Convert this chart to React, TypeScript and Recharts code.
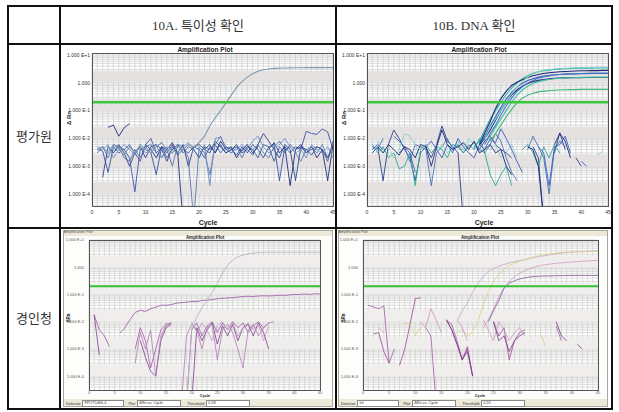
import React from 'react';
import { LineChart, Line, XAxis, YAxis, CartesianGrid, ReferenceLine, ReferenceArea } from 'recharts';

const _ = null;

const cycles = [1,2,3,4,5,6,7,8,9,10,11,12,13,14,15,16,17,18,19,20,21,22,23,24,25,26,27,28,29,30,31,32,33,34,35,36,37,38,39,40,41,42,43,44,45];
const xTicks = [0,5,10,15,20,25,30,35,40,45];
const gridCycles = [0,1,2,3,4,5,6,7,8,9,10,11,12,13,14,15,16,17,18,19,20,21,22,23,24,25,26,27,28,29,30,31,32,33,34,35,36,37,38,39,40,41,42,43,44,45];
const yTicks = [1e-4, 1e-3, 1e-2, 1e-1, 1, 10];
const thresholdTop = 0.2;
const thresholdBottom = 0.2;

// ---------- 10A / 평가원 ----------
const tlAmp = [4e-3,5e-3,3e-3,6e-3,4e-3,2.5e-3,5e-3,3e-3,6e-3,4e-3,3e-3,5e-3,7e-3,4e-3,3e-3,5e-3,4e-3,6e-3,5e-3,7e-3,1.2e-2,2.8e-2,5.5e-2,0.1,0.19,0.36,0.68,1.1,1.6,2.1,2.6,2.95,3.15,3.3,3.38,3.42,3.45,3.47,3.48,3.5,3.5,3.5,3.5,3.5,3.5];
const tlN1 = [4e-3,3.5e-3,6e-4,5e-3,3e-3,4e-3,2e-3,1.2e-4,4e-3,5e-3,3e-3,5e-4,5e-3,3e-3,6e-3,2.5e-3,4e-3,3e-3,5e-3,4e-3,2e-3,5e-3,3e-3,6e-3,3e-3,4e-3,2.5e-3,5e-3,3e-3,6e-3,4e-3,2e-3,5e-3,6e-3,3e-4,5e-3,3e-3,5e-3,4e-3,1.8e-2,1.5e-2,1.4e-2,2.2e-2,1.7e-2,4e-3];
const tlN2 = [_,_,2.5e-2,3e-2,1.2e-2,2.4e-2,3.4e-2,_,_,6e-3,4e-3,2e-3,5e-3,4e-3,7e-3,3e-3,1e-5,_,_,_,4e-3,6e-3,3e-3,8e-3,4e-3,5e-3,2e-3,4e-3,6e-3,3e-3,5e-3,_,4e-3,7e-3,3e-3,5e-3,2e-4,4e-3,6e-3,3e-3,5e-3,2e-3,4e-3,3e-4,6e-3];
const tlN3 = [3e-3,5e-3,2e-3,6e-3,5e-3,2e-3,1.5e-3,4e-3,2e-3,5e-3,6e-3,3e-3,2e-3,4e-3,1e-3,6e-3,5e-3,2e-3,1e-5,5e-3,3e-3,5e-4,6e-3,1.2e-2,4e-3,3e-3,5e-3,2e-3,5e-3,4e-3,6e-3,3e-3,2e-3,5e-3,8e-3,4e-3,5e-3,3e-3,1.5e-3,4e-3,5e-3,3e-3,6e-3,2e-3,4e-3];
const tlN4 = [_,4e-4,5e-3,3e-3,6e-3,3e-3,1e-3,3e-3,5e-3,2e-3,5e-3,6e-3,4e-3,1.5e-3,5e-3,3e-3,6e-3,1e-3,5e-3,6e-3,4e-3,3e-3,8e-3,5e-3,3e-3,4e-3,6e-3,3e-3,4e-3,2.5e-3,6e-3,1.5e-2,8e-3,4e-3,2e-3,6e-3,4e-3,3e-4,5e-3,4e-3,2.5e-3,5e-3,4e-3,2e-3,6e-3];
const tlN5 = [5e-3,4e-3,6e-3,2e-3,4e-3,6e-3,4e-3,2.5e-3,5e-3,3e-3,4e-3,6e-3,2e-3,5e-3,4e-3,3e-3,5e-3,7e-3,4e-3,2e-3,6e-3,2e-4,1e-2,1.1e-2,5e-3,3e-3,4e-3,6e-3,4e-3,8e-3,1.2e-2,5e-3,3e-3,4e-3,6e-3,1e-2,5e-3,3e-3,4e-3,2e-3,6e-3,4e-3,3e-3,5e-3,2e-3];
const tlN6 = [4e-3,_,_,3e-3,5e-3,4e-3,6e-3,3e-3,1.5e-3,6e-3,1e-2,3e-3,5e-3,2e-3,4e-3,6e-3,3e-3,5e-3,4e-3,2e-3,5e-3,4e-3,6e-3,3e-3,5e-3,4e-3,5e-3,3.5e-3,5e-3,4e-3,2e-3,6e-3,5e-3,1.5e-3,5e-3,3e-3,6e-3,4e-3,5e-3,3e-3,4e-3,5e-3,4e-3,1.5e-3,8e-3];

// ---------- 10B / 평가원 ----------
const trA = [_,_,_,_,_,_,_,_,_,_,_,_,_,_,_,_,_,_,_,5e-3,8e-3,0.02,0.05,0.1,0.2,0.38,0.65,1.0,1.4,1.8,2.2,2.5,2.7,2.85,3.0,3.1,3.2,3.25,3.3,3.32,3.35,3.38,3.4,3.4,3.4];
const trB = [_,_,_,_,_,_,_,_,_,_,_,_,_,_,_,_,_,_,_,_,6e-3,0.016,0.04,0.12,0.27,0.5,0.8,1.05,1.3,1.55,1.8,2.0,2.15,2.3,2.4,2.5,2.55,2.6,2.65,2.7,2.7,2.75,2.75,2.8,2.8];
const trC = [_,_,_,_,_,_,_,_,_,_,_,_,_,_,_,_,_,_,_,_,7e-3,0.012,0.028,0.06,0.13,0.26,0.45,0.7,0.95,1.2,1.4,1.6,1.75,1.85,1.95,2.0,2.05,2.08,2.1,2.12,2.14,2.15,2.15,2.15,2.15];
const trD = [_,_,_,_,_,_,_,_,_,_,_,_,_,_,_,_,_,_,_,_,6e-3,1e-2,0.02,0.045,0.1,0.2,0.36,0.55,0.75,0.95,1.1,1.22,1.32,1.4,1.45,1.48,1.5,1.52,1.53,1.54,1.55,1.55,1.55,1.55,1.55];
const trE = [_,_,_,_,_,_,_,_,_,_,_,_,_,_,_,_,_,_,_,_,_,8e-3,0.012,0.025,0.05,0.1,0.2,0.35,0.55,0.75,0.95,1.1,1.22,1.32,1.4,1.45,1.5,1.52,1.55,1.57,1.58,1.6,1.6,1.6,1.6];
const trF = [_,_,_,_,_,_,_,_,_,_,_,_,_,_,_,_,_,_,_,_,_,6e-3,0.015,0.03,0.07,0.15,0.28,0.48,0.72,0.98,1.22,1.45,1.62,1.78,1.9,1.98,2.05,2.1,2.14,2.17,2.2,2.22,2.24,2.25,2.25];
const trG = [_,_,_,_,_,_,_,_,_,_,_,_,_,_,_,_,_,_,_,_,_,_,8e-3,0.015,0.03,0.06,0.11,0.19,0.28,0.36,0.42,0.47,0.5,0.52,0.54,0.55,0.56,0.57,0.57,0.58,0.58,0.58,0.58,0.58,0.58];
const trH = [_,_,_,_,_,_,_,_,_,_,_,_,_,_,_,_,_,_,_,_,_,1e-2,0.025,0.05,0.1,0.2,0.4,0.7,1.1,1.6,2.1,2.5,2.8,3.0,3.15,3.25,3.35,3.4,3.45,3.5,3.52,3.55,3.58,3.6,3.6];
const trN1 = [3e-3,5e-3,3e-4,6e-3,2e-2,1e-2,4e-3,2e-3,3e-4,3e-3,5e-3,2e-3,6e-3,2.8e-2,8e-3,5e-3,3e-3,1e-5,_,5e-3,4e-3,8e-3,1.2e-2,6e-3,4e-3,3e-3,2e-3,_,_,_,5e-3,2e-3,1e-5,_,3e-3,1.6e-2,4e-3,_,2e-3,1e-3];
const trN2 = [5e-3,4e-3,1e-2,_,_,3e-3,5e-3,1.5e-3,6e-3,5e-3,4e-3,2e-4,3e-3,5e-3,1e-2,4e-3,6e-3,3e-3,5e-3,7e-3,4e-3,3e-3,6e-3,1.5e-2,8e-3,2e-3,6e-4,3e-4,_,4e-3,1.2e-2,5e-3,2e-3,1e-4,4e-3,8e-3,5e-3];
const trN3 = [6e-3,3e-3,5e-3,2e-3,3e-3,8e-4,1e-3,3e-3,2e-4,4e-3,6e-3,3e-3,5e-3,4e-3,2e-3,6e-3,5e-3,3e-3,6e-3,4e-3,1e-2,3e-3,5e-4,2e-4,5e-4,1e-3,2e-4,_,4e-3,6e-3,3e-3,1e-3,5e-3,2e-3,6e-3,3e-3];
const trN4 = [_,8e-3,3e-3,5e-3,2e-3,4e-3,1.5e-2,1.2e-2,6e-3,2e-3,_,_,4e-3,6e-3,3e-3,5e-3,8e-3,4e-3,1e-2,6e-3,3e-3,5e-3,4e-3,6e-3,2e-3,3e-3,6e-3,2e-3,_,_,_,_,_,_,_,_,_,_,_,3e-3,_,_,2.5e-3,3.5e-3];
const trN5 = [4e-3,6e-3,4e-3,_,1.2e-2,8e-3,5e-3,3e-3,6e-4,_,5e-3,8e-3,4e-3,2e-3,6e-3,3e-3,1e-2,5e-3,3e-3,2e-3,6e-3,4e-3,1e-2,7e-3,2.2e-2,1e-2,4e-3,1.5e-3,6e-4,_,_,5e-3,3e-3,2e-4,5e-3,6e-3,1.2e-2,3e-3,_,1.5e-3,1e-3];
const trN6 = [_,5e-3,3e-3,6e-3,4e-3,2.5e-3,5e-3,4e-3,2e-3,6e-3,5e-3,1e-3,5e-3,2e-2,6e-3,4e-3,5e-3,7e-3,4e-3,8e-3,3e-3,4e-3,6e-3,3e-3,4e-3,1e-3,5e-4,_,_,5e-3,4e-3,1e-3,1e-5,_,6e-3,1.5e-2,8e-3,2e-3];

// ---------- 10A / 경인청 ----------
const blAmp = [_,_,_,_,_,_,_,_,_,_,_,_,_,_,_,_,_,_,1e-5,5e-3,1.5e-2,3.2e-2,6e-2,0.12,0.25,0.6,1.2,1.8,2.4,2.8,3.1,3.3,3.45,3.5,3.55,3.55,3.55,3.55,3.55,3.55,3.55,3.55,3.55,3.55,3.55];
const blSlow = [_,_,_,_,_,3.8e-3,6e-3,1.2e-2,2.2e-2,2.6e-2,2.4e-2,3e-2,3.4e-2,4e-2,4e-2,4.2e-2,4.8e-2,5e-2,5.2e-2,5.5e-2,5.5e-2,6e-2,6.2e-2,6.5e-2,7e-2,7.2e-2,7.5e-2,7.6e-2,8e-2,8.4e-2,8.6e-2,8.4e-2,8.8e-2,9e-2,8.8e-2,9e-2,9.4e-2,9.2e-2,9.6e-2,0.1,0.1,0.104,0.1,0.106,0.104];
const blN1 = [1.8e-2,5e-3,3e-3,1.2e-3,_,_,_,_,1e-3,6e-3,2e-3,2e-4,1e-3,5e-3,8e-3,9e-3,_,_,1e-5,5e-3,9e-3,3e-3,7e-3,1e-2,4e-3,9e-3,5e-3,1e-2,6e-3,9e-3,4e-3,7e-3,1e-2,6e-3,9e-3];
const blN2 = [1.8e-2,6e-4,_,_,_,_,_,_,_,2e-3,5e-4,1.5e-4,1e-4,2e-3,6e-3,8e-3,_,_,_,1e-5,6e-3,2e-3,5e-3,9e-3,1.5e-3,7e-3,3e-3,8e-3,2e-3,6e-3,8e-3,3e-3,9e-3,4e-3,1e-3];
const blN3 = [_,_,_,_,_,_,_,_,3e-4,4e-3,1e-3,5e-3,1e-4,3e-3,7e-3,9e-3,_,1e-5,3e-3,8e-3,5e-3,1e-3,6e-3,8e-3,4e-4,5e-3,8e-3,4e-3,1e-3,2e-4,5e-3,8e-3,3e-3,6e-3,9e-3,1e-2];
const blN4 = [_,_,_,_,_,_,_,_,_,_,_,_,_,2e-3,9e-3,_,_,_,_,1e-2,4e-3,9e-3,5e-3,2e-3,7e-3,1e-2,5e-3,9e-3,3e-3,6e-3,9e-3,5e-3,8e-3,2e-3,7e-3];

// ---------- 10B / 경인청 ----------
const brA = [_,_,_,_,_,_,_,_,_,_,_,_,_,_,_,_,_,1e-2,2.5e-2,5e-2,0.12,0.25,0.45,0.7,0.9,1.1,1.25,1.45,1.6,1.75,1.9,2.1,2.3,2.5,2.7,2.9,3.1,3.3,3.45,3.6,3.7,3.8,3.9,4.0,4.05];
const brB = [_,_,_,_,_,_,_,_,_,_,_,_,_,_,_,_,_,_,_,_,5e-3,1e-2,4e-2,0.13,0.3,0.55,0.85,1.15,1.4,1.65,1.9,2.2,2.45,2.7,2.9,3.1,3.3,3.45,3.55,3.6,3.65,3.7,3.72,3.75,3.75];
const brC = [_,_,_,_,_,_,_,_,_,_,_,_,_,_,_,_,_,_,_,_,_,_,6e-3,1.2e-2,3e-2,0.08,0.17,0.3,0.45,0.6,0.75,0.9,1.05,1.15,1.25,1.32,1.4,1.45,1.5,1.55,1.6,1.65,1.7,1.75,1.8];
const brD = [_,_,_,_,_,_,_,_,_,_,_,_,_,_,_,_,_,_,_,_,_,_,_,1e-2,2.5e-2,6e-2,0.17,0.26,0.32,0.37,0.41,0.44,0.46,0.47,0.48,0.48,0.49,0.49,0.5,0.5,0.5,0.5,0.5,0.5,0.5];
const brN1 = [4e-2,3.5e-2,3e-2,3.8e-2,3e-4,1e-3,_,_,_,_,_,6e-3,3e-3,1e-5,_,1.1e-2,8e-3,2e-3,4e-4,1e-3,1e-4,_,_,_,_,_,_,_,_,_,_,_,_,_,_,_,7e-3,2e-3];
const brN2 = [_,3.5e-3,4e-3,8e-4,3e-4,_,2.5e-4,1e-3,8e-3,7e-2,7.5e-2,_,_,_,_,1.1e-2,5e-3,1.5e-3,4e-4,1.2e-3,1e-4,_,_,_,1e-2,3e-3,6e-3,4e-4,2e-3,4e-3,5e-3];
const brN3 = [_,_,_,_,_,_,_,9e-3,8e-3,3e-3,6e-3,_,_,_,_,_,_,4e-3,5e-3,3e-3,4e-3,_,_,_,_,_,_,_,_,_,_,_,_,3.5e-3,1.2e-3];
const brN4 = [_,_,6e-3,4e-3,_,_,_,_,_,_,1e-2,6e-3,3e-2,1.2e-2,4e-3,_,_,1.2e-2,6e-3,2e-3,_,_,1.2e-2,5e-3,2e-3,1e-2,5e-3,2e-3,4e-3,6e-3,3e-3];
const brN5 = [_,_,_,_,_,_,_,_,_,_,_,_,_,_,_,1.2e-2,5e-3,1.5e-3,4e-4,8e-4,1e-4,_,_,_,1e-2,2e-3,3e-3,8e-4,2e-3,3e-3,4e-3,_,_,_,_,_,1e-2,3e-3,2e-3,_,1.5e-3,1e-3];

type Series = { key: string; data: (number | null)[]; color: string; w: number };

const seriesTL: Series[] = [
  { key: 'n1', data: tlN1, color: '#3552a6', w: 0.9 },
  { key: 'n2', data: tlN2, color: '#1f2f7a', w: 0.9 },
  { key: 'n3', data: tlN3, color: '#5877b0', w: 0.9 },
  { key: 'n4', data: tlN4, color: '#2b4690', w: 0.9 },
  { key: 'n5', data: tlN5, color: '#6b8cc4', w: 0.9 },
  { key: 'n6', data: tlN6, color: '#415f9a', w: 0.9 },
  { key: 'amp', data: tlAmp, color: '#7f9aae', w: 1.1 },
];
const seriesTR: Series[] = [
  { key: 'n1', data: trN1, color: '#2a3f92', w: 0.9 },
  { key: 'n2', data: trN2, color: '#4a70b8', w: 0.9 },
  { key: 'n3', data: trN3, color: '#2aa894', w: 0.9 },
  { key: 'n4', data: trN4, color: '#8ccfc6', w: 0.9 },
  { key: 'n5', data: trN5, color: '#3b5cc0', w: 0.9 },
  { key: 'n6', data: trN6, color: '#1c2872', w: 0.9 },
  { key: 'a', data: trA, color: '#2fb3a2', w: 1.1 },
  { key: 'b', data: trB, color: '#1a2878', w: 1.1 },
  { key: 'c', data: trC, color: '#2f5fc0', w: 1.1 },
  { key: 'd', data: trD, color: '#22307a', w: 1.1 },
  { key: 'e', data: trE, color: '#3cc0a0', w: 1.1 },
  { key: 'f', data: trF, color: '#4a78c8', w: 1.1 },
  { key: 'g', data: trG, color: '#40b878', w: 1.1 },
  { key: 'h', data: trH, color: '#78d0c8', w: 1.1 },
];
const seriesBL: Series[] = [
  { key: 'n1', data: blN1, color: '#9a58a6', w: 0.8 },
  { key: 'n2', data: blN2, color: '#7a3a8a', w: 0.8 },
  { key: 'n3', data: blN3, color: '#b27ab8', w: 0.8 },
  { key: 'n4', data: blN4, color: '#c496c8', w: 0.8 },
  { key: 'slow', data: blSlow, color: '#a464ae', w: 0.9 },
  { key: 'amp', data: blAmp, color: '#bcb4c2', w: 0.9 },
];
const seriesBR: Series[] = [
  { key: 'n1', data: brN1, color: '#a058a8', w: 0.8 },
  { key: 'n2', data: brN2, color: '#9a4898', w: 0.8 },
  { key: 'n3', data: brN3, color: '#d8d080', w: 0.8 },
  { key: 'n4', data: brN4, color: '#cc94c4', w: 0.8 },
  { key: 'n5', data: brN5, color: '#7a3a88', w: 0.8 },
  { key: 'a', data: brA, color: '#c8acd8', w: 0.9 },
  { key: 'b', data: brB, color: '#d8d490', w: 0.9 },
  { key: 'c', data: brC, color: '#d4a0cc', w: 0.9 },
  { key: 'd', data: brD, color: '#8c6aa8', w: 0.9 },
];

function buildRows(series: Series[]) {
  return cycles.map((c, i) => {
    const r: Record<string, number | null> = { cycle: c };
    series.forEach((s) => {
      const v = s.data[i];
      r[s.key] = v === undefined ? null : v;
    });
    return r;
  });
}

const minorMult = [1, 2, 3, 4, 5, 6, 7, 8, 9];
const decades = [-5, -4, -3, -2, -1, 0, 1];

function fmtExp(v: number) {
  const k = Math.round(Math.log10(v));
  if (k === 0) return '1.000';
  return `1.000 E${k > 0 ? '+' : ''}${k}`;
}

const sans = 'Liberation Sans, Arial, sans-serif';
const serif = '"Liberation Serif", "DejaVu Serif", "Noto Sans CJK KR", serif';

type PlotProps = {
  left: number; top: number; width: number; height: number;
  mTop: number; mRight: number; yW: number; xH: number;
  series: Series[]; domain: [number, number]; threshold: number;
  tickFont: number; tickColor: string; yGap: number; xGap: number;
  grid: string; band: string; green: string; greenW: number;
};

function AmpPlot(p: PlotProps) {
  const rows = buildRows(p.series);
  const levels = decades.flatMap((d) => minorMult.map((m) => m * Math.pow(10, d))).filter((v) => v >= p.domain[0] && v <= p.domain[1]);
  const bandLows = [1e-5, 1e-4, 1e-3, 1e-2, 1e-1, 1];
  const yTick = (t: any) => (
    <text x={t.x - p.yGap} y={t.y} dy="0.35em" textAnchor="end" fontSize={p.tickFont} fill={p.tickColor} fontFamily={sans}>
      {fmtExp(t.payload.value)}
    </text>
  );
  const xTick = (t: any) => (
    <text x={t.x} y={t.y + p.xGap} dy="0.75em" textAnchor="middle" fontSize={p.tickFont} fill={p.tickColor} fontFamily={sans}>
      {t.payload.value}
    </text>
  );
  return (
    <div style={{ position: 'absolute', left: p.left, top: p.top }}>
      <LineChart width={p.width} height={p.height} data={rows} margin={{ top: p.mTop, right: p.mRight, left: 0, bottom: 0 }}>
        {bandLows.map((b) => (
          <ReferenceArea key={b} y1={Math.max(b, p.domain[0])} y2={Math.min(b * 2.7, p.domain[1])} fill={p.band} fillOpacity={1} stroke="none" ifOverflow="hidden" />
        ))}
        <CartesianGrid stroke={p.grid} strokeWidth={0.6} verticalValues={gridCycles} horizontalValues={levels} />
        <XAxis dataKey="cycle" type="number" domain={[0, 45]} ticks={xTicks} interval={0} allowDataOverflow height={p.xH}
          axisLine={false} tickLine={false} tickSize={0} tickMargin={0} tick={xTick} />
        <YAxis type="number" scale="log" domain={p.domain} ticks={yTicks} interval={0} allowDataOverflow width={p.yW}
          axisLine={false} tickLine={false} tickSize={0} tickMargin={0} tick={yTick} />
        {p.series.map((s) => (
          <Line key={s.key} dataKey={s.key} type="linear" stroke={s.color} strokeWidth={s.w} dot={false} activeDot={false}
            connectNulls={false} isAnimationActive={false} />
        ))}
        <ReferenceLine y={p.threshold} stroke={p.green} strokeWidth={p.greenW} />
      </LineChart>
      <div style={{ position: 'absolute', left: p.yW - 0.5, top: p.mTop - 0.5, width: p.width - p.yW - p.mRight + 1, height: p.height - p.mTop - p.xH + 1, border: '1px solid #555', boxSizing: 'border-box', pointerEvents: 'none' }} />
    </div>
  );
}

function Txt(props: { x: number; y: number; size: number; bold?: boolean; color?: string; rot?: boolean; children: React.ReactNode; font?: string }) {
  return (
    <div style={{ position: 'absolute', left: props.x, top: props.y, transform: `translate(-50%,-50%)${props.rot ? ' rotate(-90deg)' : ''}`,
      fontSize: props.size, fontWeight: props.bold ? 700 : 400, color: props.color || '#222', fontFamily: props.font || sans, whiteSpace: 'nowrap', lineHeight: 1 }}>
      {props.children}
    </div>
  );
}

function Box(props: { x: number; y: number; w: number; h: number; bg?: string; border?: string }) {
  return <div style={{ position: 'absolute', left: props.x, top: props.y, width: props.w, height: props.h, background: props.bg, border: props.border, boxSizing: 'border-box' }} />;
}

function Controls(props: { x: number; y: number; detector: string; threshold: string }) {
  const f = { fontSize: 3.8, fontFamily: sans, color: '#333' } as React.CSSProperties;
  const field = { display: 'inline-block', border: '0.5px solid #888', background: '#fff', height: 5, lineHeight: '5px', padding: '0 1px', verticalAlign: 'middle' } as React.CSSProperties;
  return (
    <div style={{ position: 'absolute', left: props.x, top: props.y, whiteSpace: 'nowrap', ...f }}>
      <span>Detector: </span><span style={{ ...field, width: 38 }}>{props.detector}</span>
      <span style={{ marginLeft: 4 }}>Plot: </span><span style={{ ...field, width: 40 }}>ΔRn vs. Cycle</span>
      <span style={{ marginLeft: 6 }}>Threshold: </span><span style={{ ...field, width: 40 }}>{props.threshold}</span>
    </div>
  );
}

export default function App() {
  const line = '#111';
  return (
    <div style={{ position: 'absolute', left: 0, top: 0, width: 619, height: 412, background: '#fff', overflow: 'hidden' }}>
      <AmpPlot left={62} top={46} width={274} height={180} mTop={7} mRight={3} yW={30} xH={20}
        series={seriesTL} domain={[3.7e-5, 11.8]} threshold={thresholdTop}
        tickFont={5} tickColor="#333" yGap={2} xGap={4}
        grid="#c4c4c4" band="#e6e1e1" green="#3cc83c" greenW={2.6} />
      <AmpPlot left={337} top={46} width={274} height={180} mTop={7} mRight={3} yW={30} xH={20}
        series={seriesTR} domain={[3.7e-5, 11.8]} threshold={thresholdTop}
        tickFont={5} tickColor="#333" yGap={2} xGap={4}
        grid="#c4c4c4" band="#e6e1e1" green="#3cc83c" greenW={2.6} />

      <Box x={63} y={230} w={270} h={177} bg="#ece9d8" border="1px solid #a8a8a0" />
      <Box x={64} y={236} w={268} h={163} bg="#fdfdfb" />
      <Box x={338} y={230} w={270} h={177} bg="#ece9d8" border="1px solid #a8a8a0" />
      <Box x={339} y={236} w={268} h={163} bg="#fdfdfb" />
      <Txt x={78} y={233} size={3.8} color="#555">Amplification Plot</Txt>
      <Txt x={353} y={233} size={3.8} color="#555">Amplification Plot</Txt>

      <AmpPlot left={64} top={233} width={260} height={167} mTop={7} mRight={4} yW={25} xH={10}
        series={seriesBL} domain={[3.1e-5, 10]} threshold={thresholdBottom}
        tickFont={4} tickColor="#555" yGap={5} xGap={1}
        grid="#c8c8c8" band="#f0eded" green="#33c033" greenW={1.8} />
      <AmpPlot left={338} top={233} width={264} height={167} mTop={7} mRight={4} yW={25} xH={10}
        series={seriesBR} domain={[3.1e-5, 10]} threshold={thresholdBottom}
        tickFont={4} tickColor="#555" yGap={5} xGap={1}
        grid="#c8c8c8" band="#f0eded" green="#33c033" greenW={1.8} />

      <Controls x={66} y={400} detector="FPOT5466-4" threshold="0.28" />
      <Controls x={341} y={400} detector="Inl" threshold="0.20" />

      <Txt x={205} y={50} size={6.5} bold>Amplification Plot</Txt>
      <Txt x={479} y={50} size={6.5} bold>Amplification Plot</Txt>
      <Txt x={208} y={222} size={7} bold>Cycle</Txt>
      <Txt x={484} y={222} size={7} bold>Cycle</Txt>
      <Txt x={69} y={118} size={6} bold rot>Δ Rn</Txt>
      <Txt x={344} y={118} size={6} bold rot>Δ Rn</Txt>
      <Txt x={205} y={238} size={4.5} bold>Amplification Plot</Txt>
      <Txt x={480} y={238} size={4.5} bold>Amplification Plot</Txt>
      <Txt x={205} y={396} size={4} bold>Cycle</Txt>
      <Txt x={480} y={396} size={4} bold>Cycle</Txt>
      <Txt x={69} y={318} size={4.5} bold rot>ΔRn</Txt>
      <Txt x={344} y={318} size={4.5} bold rot>ΔRn</Txt>

      <Box x={7} y={5} w={606} h={405} border={`2px solid ${line}`} />
      <Box x={59} y={5} w={2} h={405} bg={line} />
      <Box x={335} y={5} w={2} h={405} bg={line} />
      <Box x={7} y={43} w={606} h={2} bg={line} />
      <Box x={7} y={227} w={606} h={2} bg={line} />
      <Txt x={198} y={25} size={13} color="#333" font={serif}>10A. 특이성 확인</Txt>
      <Txt x={474} y={25} size={13} color="#333" font={serif}>10B. DNA 확인</Txt>
      <Txt x={34} y={136} size={13} color="#333" font={serif}>평가원</Txt>
      <Txt x={34} y={318} size={13} color="#333" font={serif}>경인청</Txt>
    </div>
  );
}
